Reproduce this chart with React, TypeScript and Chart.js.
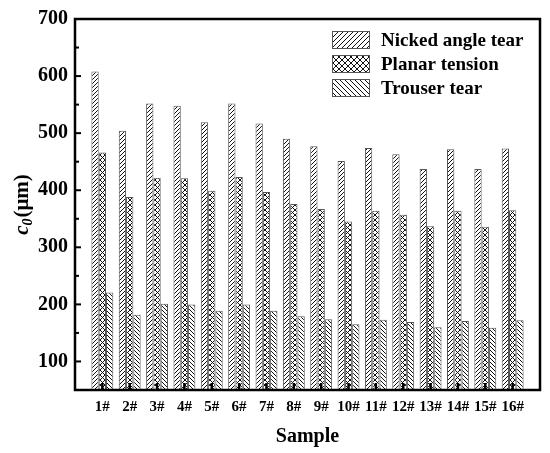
import React, { useEffect, useRef } from "react";
import { Chart, registerables } from "chart.js";

Chart.register(...registerables);

const categories = ["1#", "2#", "3#", "4#", "5#", "6#", "7#", "8#", "9#", "10#", "11#", "12#", "13#", "14#", "15#", "16#"];
const nickedAngleTear = [608, 504, 552, 548, 519, 552, 517, 490, 477, 451, 474, 463, 437, 472, 437, 473];
const planarTension = [466, 388, 422, 421, 399, 423, 397, 376, 367, 345, 364, 357, 337, 364, 336, 365];
const trouserTear = [221, 182, 201, 200, 189, 200, 189, 179, 174, 165, 173, 169, 160, 171, 159, 172];
const seriesNames = ["Nicked angle tear", "Planar tension", "Trouser tear"];

const FONT = "'Liberation Serif', 'Times New Roman', serif";

// axis padded with one empty slot on each side
const paddedLabels = ["", ...categories, ""];
const pad = (arr: number[]) => [null, ...arr, null];

function makePattern(kind: "fwd" | "back" | "cross", size: number): CanvasPattern | string {
  const c = document.createElement("canvas");
  c.width = size;
  c.height = size;
  const g = c.getContext("2d");
  if (!g) return "#fff";
  g.fillStyle = "#ffffff";
  g.fillRect(0, 0, size, size);
  g.strokeStyle = "#111111";
  g.lineWidth = 1;
  const fwd = () => {
    g.beginPath();
    g.moveTo(-1, size + 1);
    g.lineTo(size + 1, -1);
    g.moveTo(-1, 1);
    g.lineTo(1, -1);
    g.moveTo(size - 1, size + 1);
    g.lineTo(size + 1, size - 1);
    g.stroke();
  };
  const back = () => {
    g.beginPath();
    g.moveTo(-1, -1);
    g.lineTo(size + 1, size + 1);
    g.moveTo(size - 1, -1);
    g.lineTo(size + 1, 1);
    g.moveTo(-1, size - 1);
    g.lineTo(1, size + 1);
    g.stroke();
  };
  if (kind === "fwd") fwd();
  if (kind === "back") back();
  if (kind === "cross") {
    fwd();
    back();
  }
  const p = g.createPattern(c, "repeat");
  return p || "#fff";
}

export default function App() {
  const ref = useRef<HTMLCanvasElement>(null);

  useEffect(() => {
    if (!ref.current) return;
    const pats = [makePattern("fwd", 4), makePattern("cross", 5), makePattern("back", 4)];
    const legendPats = [makePattern("fwd", 5), makePattern("cross", 6), makePattern("back", 5)];

    const overlay = {
      id: "overlay",
      afterDraw(chart: any) {
        const ctx = chart.ctx as CanvasRenderingContext2D;
        const a = chart.chartArea;
        const ys = chart.scales.y;
        const xs = chart.scales.x;
        ctx.save();
        // frame
        ctx.strokeStyle = "#000";
        ctx.lineWidth = 2.5;
        ctx.strokeRect(a.left, a.top, a.right - a.left, a.bottom - a.top);
        // y ticks inward
        ctx.lineWidth = 2;
        for (let v = 100; v <= 650; v += 50) {
          const y = ys.getPixelForValue(v);
          const len = v % 100 === 0 ? 6 : 4;
          ctx.beginPath();
          ctx.moveTo(a.left, y);
          ctx.lineTo(a.left + len, y);
          ctx.stroke();
        }
        // x ticks inward
        ctx.lineWidth = 2.5;
        for (let i = 1; i <= categories.length; i++) {
          const x = xs.getPixelForValue(i);
          ctx.beginPath();
          ctx.moveTo(x, a.bottom);
          ctx.lineTo(x, a.bottom - 7);
          ctx.stroke();
        }
        // x title
        ctx.fillStyle = "#000";
        ctx.font = `bold 20px ${FONT}`;
        ctx.textAlign = "center";
        ctx.textBaseline = "middle";
        ctx.fillText("Sample", (a.left + a.right) / 2, 437);
        // y title
        ctx.save();
        ctx.translate(23, (a.top + a.bottom) / 2);
        ctx.rotate(-Math.PI / 2);
        ctx.textBaseline = "middle";
        ctx.textAlign = "left";
        const f1 = `italic bold 21px ${FONT}`;
        const f2 = `italic bold 14px ${FONT}`;
        const f3 = `bold 21px ${FONT}`;
        ctx.font = f1;
        const w1 = ctx.measureText("c").width;
        ctx.font = f2;
        const w2 = ctx.measureText("0").width;
        ctx.font = f3;
        const w3 = ctx.measureText("(μm)").width;
        let x0 = -(w1 + w2 + w3 + 1) / 2;
        ctx.font = f1;
        ctx.fillText("c", x0, 0);
        x0 += w1;
        ctx.font = f2;
        ctx.fillText("0", x0, 5);
        x0 += w2 + 1;
        ctx.font = f3;
        ctx.fillText("(μm)", x0, 0);
        ctx.restore();
        // legend
        const bx = a.right - 208;
        ctx.font = `bold 19px ${FONT}`;
        ctx.textAlign = "left";
        ctx.textBaseline = "middle";
        for (let i = 0; i < 3; i++) {
          const by = a.top + 12 + i * 24;
          ctx.fillStyle = legendPats[i] as any;
          ctx.fillRect(bx, by, 38, 18);
          ctx.strokeStyle = "#555";
          ctx.lineWidth = 1;
          ctx.strokeRect(bx + 0.5, by + 0.5, 37, 17);
          ctx.fillStyle = "#000";
          ctx.fillText(seriesNames[i], bx + 49, by + 10);
        }
        ctx.restore();
      },
    };

    const chart = new Chart(ref.current, {
      type: "bar",
      data: {
        labels: paddedLabels,
        datasets: [
          { label: seriesNames[0], data: pad(nickedAngleTear), backgroundColor: pats[0] as any, borderColor: "#555", borderWidth: 1 },
          { label: seriesNames[1], data: pad(planarTension), backgroundColor: pats[1] as any, borderColor: "#555", borderWidth: 1 },
          { label: seriesNames[2], data: pad(trouserTear), backgroundColor: pats[2] as any, borderColor: "#555", borderWidth: 1 },
        ],
      },
      options: {
        responsive: false,
        animation: false,
        devicePixelRatio: 1,
        layout: { padding: { left: 0, right: 10, top: 15, bottom: 0 } },
        plugins: { legend: { display: false }, tooltip: { enabled: false } },
        datasets: { bar: { categoryPercentage: 0.8, barPercentage: 1 } },
        scales: {
          x: {
            offset: false,
            grid: { display: false, drawTicks: false },
            border: { display: false },
            ticks: { color: "#000", font: { family: FONT, size: 15, weight: "bold" }, padding: 8, maxRotation: 0, autoSkip: false },
            afterFit(scale: any) {
              scale.height = 63;
            },
          },
          y: {
            min: 50,
            max: 700,
            grid: { display: false, drawTicks: false },
            border: { display: false },
            ticks: {
              stepSize: 50,
              color: "#000",
              font: { family: FONT, size: 20, weight: "bold" },
              padding: 7,
              callback: (v: any) => (Number(v) % 100 === 0 ? String(v) : ""),
            },
            afterFit(scale: any) {
              scale.width = 75;
            },
          },
        },
      },
      plugins: [overlay],
    });
    return () => chart.destroy();
  }, []);

  return (
    <div style={{ position: "fixed", left: 0, top: 0, width: 550, height: 453, background: "#fff" }}>
      <canvas ref={ref} width={550} height={453} style={{ width: 550, height: 453 }} />
    </div>
  );
}
